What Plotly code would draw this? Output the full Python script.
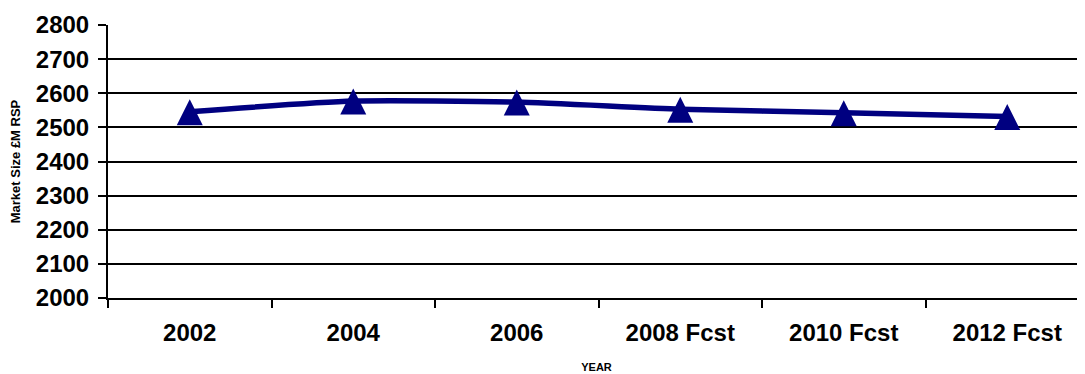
import plotly.graph_objects as go

years = ["2002", "2004", "2006", "2008 Fcst", "2010 Fcst", "2012 Fcst"]
market_size = [2546, 2577, 2574, 2553, 2543, 2532]
y_ticks = [2000, 2100, 2200, 2300, 2400, 2500, 2600, 2700, 2800]

navy = "#000080"
font_family = "Liberation Sans, Arial, sans-serif"

y_range = [2000, 2800]
plot_h_px = 273
marker_half_px = 12.5  # arrow-up apex sits on the point; lift it so it is centred
lift = marker_half_px * (y_range[1] - y_range[0]) / plot_h_px

fig = go.Figure()
fig.add_trace(go.Scatter(
    x=years, y=market_size, mode="lines",
    line=dict(color=navy, width=5.5, shape="spline", smoothing=0.6),
    showlegend=False, cliponaxis=False,
))
fig.add_trace(go.Scatter(
    x=years, y=market_size, mode="markers", yaxis="y2",
    marker=dict(symbol="arrow-up", size=26, color=navy, line=dict(width=0)),
    showlegend=False, cliponaxis=False,
))

fig.update_layout(
    width=1077, height=366,
    margin=dict(l=100, r=0, t=17, b=76),
    paper_bgcolor="white", plot_bgcolor="white",
    font=dict(family=font_family, color="black"),
    xaxis=dict(
        type="category", range=[-0.5, -0.5 + 977 / 163.5], automargin=False,
        showgrid=False, tickson="boundaries", ticks="outside", ticklen=8,
        tickwidth=2, tickcolor="black",
        showline=True, linecolor="black", linewidth=2,
        tickfont=dict(size=24, family=font_family, color="black", weight="bold"),
        ticklabelstandoff=12,
        title=dict(text="<b>YEAR</b>", font=dict(size=11, family=font_family), standoff=19),
    ),
    yaxis=dict(
        range=y_range, tickvals=y_ticks, ticktext=[str(v) for v in y_ticks],
        automargin=False,
        showgrid=True, gridcolor="black", gridwidth=2,
        ticks="outside", ticklen=8, tickwidth=2, tickcolor="black",
        showline=True, linecolor="black", linewidth=2,
        tickfont=dict(size=24, family=font_family, color="black", weight="bold"),
        ticklabelstandoff=4,
        title=dict(text="<b>Market Size £M RSP</b>", font=dict(size=13, family=font_family), standoff=12),
        zeroline=False,
    ),
    yaxis2=dict(
        overlaying="y", range=[y_range[0] - lift, y_range[1] - lift],
        visible=False, automargin=False,
    ),
)

fig.write_html("out.html")
